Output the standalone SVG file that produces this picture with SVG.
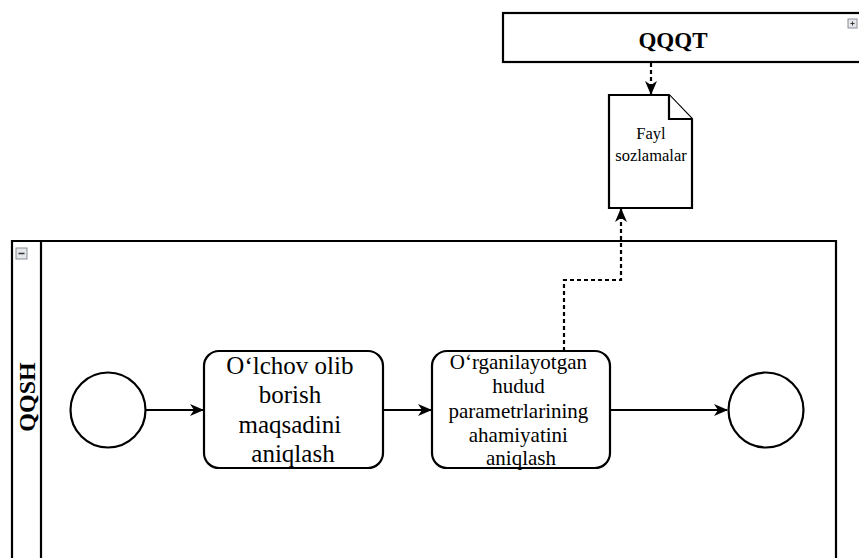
<svg xmlns="http://www.w3.org/2000/svg" width="859" height="558" viewBox="0 0 859 558">
  <defs>
    <style>
      .shape { fill: #ffffff; stroke: #000000; stroke-width: 2.2; }
      .lbl { fill: #000000; text-anchor: middle; font-family: "Liberation Serif", "Times New Roman", serif; }
      .flow { fill: none; stroke: #000000; stroke-width: 2; }
      .assoc { fill: none; stroke: #000000; stroke-width: 2.2; stroke-dasharray: 4 3; }
      .icon { fill: #e4e6ea; stroke: #8a8f96; stroke-width: 1; }
    </style>
    <marker id="arrow" viewBox="0 0 14 12" refX="13" refY="6" markerWidth="14" markerHeight="12" markerUnits="userSpaceOnUse" orient="auto">
      <path d="M0,0 L14,6 L0,12 L4,6 Z" fill="#000000"/>
    </marker>
  </defs>

  <rect width="859" height="558" fill="#ffffff"/>

  <!-- collapsed pool QQQT -->
  <g id="pool-qqqt">
    <rect class="shape" x="503" y="13" width="360" height="49"/>
    <text class="lbl" x="673" y="48" font-size="23" font-weight="bold">QQQT</text>
    <rect class="icon" x="848" y="19" width="9" height="9"/>
    <path d="M850.5,23.5 H854.5 M852.5,21.5 V25.5" stroke="#333" stroke-width="1"/>
  </g>

  <!-- data object -->
  <g id="data-fayl">
    <path class="shape" d="M609,95 H669 L692,119 V208 H609 Z"/>
    <path class="shape" d="M669,95 V119 H692" fill="none"/>
    <text class="lbl" x="651" y="139" font-size="16.5">Fayl</text>
    <text class="lbl" x="651" y="161" font-size="16.5">sozlamalar</text>
  </g>

  <!-- pool QQSH -->
  <g id="pool-qqsh">
    <path class="shape" d="M12,560 V241 H836 V560"/>
    <line x1="41" y1="241" x2="41" y2="560" stroke="#000" stroke-width="2.2"/>
    <rect class="icon" x="16" y="248" width="11" height="11"/>
    <line x1="18.5" y1="253.5" x2="24.5" y2="253.5" stroke="#333" stroke-width="1.5"/>
    <text class="lbl" transform="translate(35,397) rotate(-90)" font-size="24" font-weight="bold">QQSH</text>
  </g>

  <!-- start event -->
  <g id="start">
    <circle class="shape" cx="108" cy="410" r="37.5" stroke-width="2"/>
  </g>

  <!-- task 1 -->
  <g id="task1">
    <rect class="shape" x="204" y="351" width="179" height="117" rx="15" ry="15"/>
    <text class="lbl" font-size="25">
      <tspan x="293" y="374">O‘lchov olib</tspan>
      <tspan x="293" y="403">borish</tspan>
      <tspan x="293" y="433">maqsadini</tspan>
      <tspan x="293" y="462">aniqlash</tspan>
    </text>
  </g>

  <!-- task 2 -->
  <g id="task2">
    <rect class="shape" x="432" y="351" width="178" height="117" rx="15" ry="15"/>
    <text class="lbl" font-size="21">
      <tspan x="521" y="369">O‘rganilayotgan</tspan>
      <tspan x="521" y="393">hudud</tspan>
      <tspan x="521" y="418">parametrlarining</tspan>
      <tspan x="521" y="442">ahamiyatini</tspan>
      <tspan x="521" y="465">aniqlash</tspan>
    </text>
  </g>

  <!-- end event -->
  <g id="end">
    <circle class="shape" cx="766" cy="410" r="37.5" stroke-width="3.5"/>
  </g>

  <!-- connectors -->
  <g id="connectors">
    <line class="flow" x1="146" y1="410" x2="203" y2="410" marker-end="url(#arrow)"/>
    <line class="flow" x1="383" y1="410" x2="431" y2="410" marker-end="url(#arrow)"/>
    <line class="flow" x1="610" y1="410" x2="727" y2="410" marker-end="url(#arrow)"/>
    <path class="assoc" d="M651,63 V94" marker-end="url(#arrow)"/>
    <path class="assoc" d="M564,351 V280 H621 V209" marker-end="url(#arrow)"/>
  </g>
</svg>
